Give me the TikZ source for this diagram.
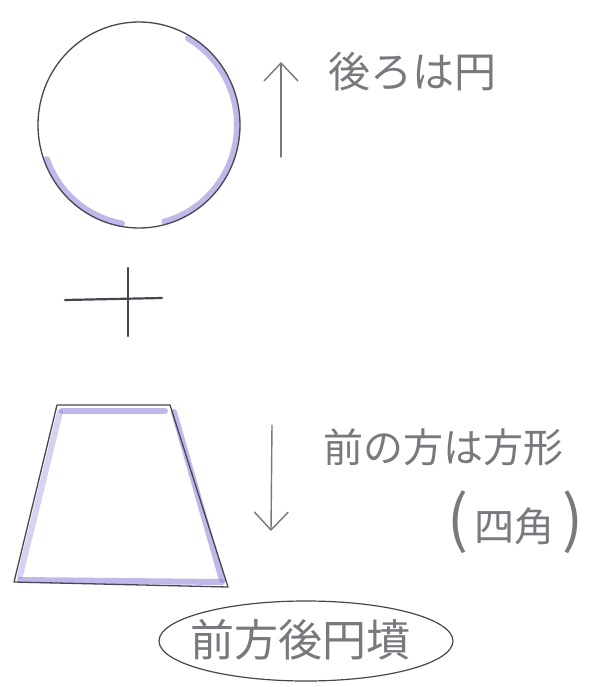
\documentclass[tikz,border=0pt]{standalone}
\usepackage{fontspec}
\newfontfamily\jp{Noto Sans CJK JP}
\usetikzlibrary{arrows.meta,shapes.geometric}
\definecolor{pencil}{RGB}{120,120,126}
\definecolor{ink}{RGB}{70,70,80}
\definecolor{purp}{RGB}{145,125,215}
\tikzset{
  txt/.style={text=pencil, font=\jp\fontsize{42}{48}\selectfont, inner sep=0pt},
  pen/.style={draw=ink, line width=1.3pt},
  crayon/.style={draw=purp, line width=6pt, opacity=0.55},
  pencilline/.style={draw=pencil, line width=1.4pt},
  arrowtip/.style={-{Straight Barb[length=18pt,width=34pt,line width=1.4pt]}}
}
\begin{document}
\begin{tikzpicture}[x=1pt,y=-1pt,line cap=round,line join=round]
\useasboundingbox[fill=white] (0,0) rectangle (599,687);

% circle (back part)
\draw[crayon] (139,125) ++(-60:98 and 100) arc[start angle=-60,end angle=75,x radius=98,y radius=100];
\draw[crayon] (139,125) ++(100:98 and 100) arc[start angle=100,end angle=160,x radius=98,y radius=100];
\node[ellipse, pen, minimum width=202pt, minimum height=206pt, inner sep=0pt] (circ) at (139,125) {};

% plus sign
\coordinate (plL) at (65,300);
\coordinate (plR) at (162,298);
\coordinate (plT) at (128,268);
\coordinate (plB) at (128,336);
\draw[pen, line width=2.2pt] (plL) -- (plR);
\draw[pen, line width=2.2pt] (plT) -- (plB);

% trapezoid (front part)
\coordinate (tl) at (57,405);
\coordinate (tr) at (170,405);
\coordinate (br) at (228,587);
\coordinate (bl) at (14,582);
\draw[crayon] (62,411) -- (165,411);
\draw[crayon] (174,412) -- (222,580);
\draw[crayon] (20,580) -- (222,582);
\draw[crayon, opacity=0.35] (60,412) -- (20,576);
\draw[pen] (tl) -- (tr) -- (br) -- (bl) -- cycle;

% arrows
\coordinate (upS) at (281,157);
\coordinate (upE) at (281,62);
\draw[pencilline, arrowtip] (upS) -- (upE);
\coordinate (dnS) at (272,425);
\coordinate (dnE) at (271,531);
\draw[pencilline, arrowtip] (dnS) -- (dnE);

% labels
\node[txt] (back) at (412,72) {後ろは円};
\node[txt, font=\jp\fontsize{40}{48}\selectfont] (front) at (443,447) {前の方は方形};
\node[txt, font=\jp\fontsize{40}{48}\selectfont] (square) at (515,522) {{\fontsize{62}{62}\selectfont(}\hspace{6pt}四角\hspace{8pt}{\fontsize{62}{62}\selectfont)}};

% title in oval
\node[ellipse, draw=ink, line width=1.2pt, minimum width=294pt, minimum height=80pt, inner sep=0pt] (oval) at (306,641) {};
\node[txt, font=\jp\fontsize{44}{50}\selectfont] (title) at (300,640) {前方後円墳};
\end{tikzpicture}
\end{document}
